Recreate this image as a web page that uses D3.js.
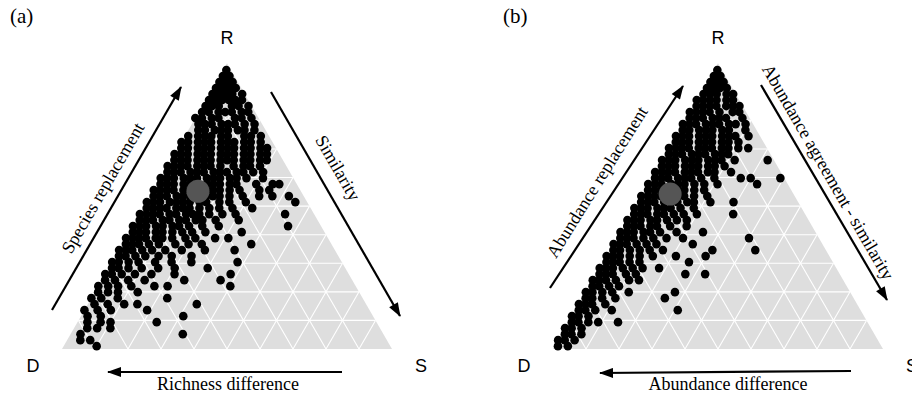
<!DOCTYPE html>
<html>
<head>
<meta charset="utf-8">
<script src="https://cdn.jsdelivr.net/npm/d3@7/dist/d3.min.js"></script>
<style>
  body { margin: 0; background: #fff; }
  svg { display: block; }
  .serif { font-family: "Liberation Serif", "Times New Roman", serif; }
  .sans { font-family: "Liberation Sans", Arial, sans-serif; }
</style>
</head>
<body>
<div id="chart"></div>
<script>
// ternary compositions: each level = [R (replacement), [S (similarity) values]], D = 1 - R - S
const levelsA = [
  [0.976, [0.01]],
  [0.955, [0.01, 0.03]],
  [0.934, [0.01, 0.03, 0.05]],
  [0.913, [0.01, 0.03, 0.05, 0.07]],
  [0.892, [0.01, 0.03, 0.05, 0.07, 0.10]],
  [0.871, [0.01, 0.03, 0.05, 0.07, 0.09, 0.11]],
  [0.850, [0.01, 0.03, 0.05, 0.09, 0.11, 0.14]],
  [0.829, [0.01, 0.03, 0.06, 0.08, 0.10, 0.13, 0.15]],
  [0.808, [0.00, 0.02, 0.05, 0.07, 0.12, 0.14, 0.17]],
  [0.787, [0.02, 0.04, 0.06, 0.09, 0.11, 0.13, 0.16, 0.19]],
  [0.766, [0.03, 0.05, 0.08, 0.10, 0.12, 0.15, 0.17, 0.20]],
  [0.745, [0.01, 0.04, 0.06, 0.08, 0.11, 0.13, 0.18, 0.20, 0.23]],
  [0.724, [0.00, 0.02, 0.05, 0.07, 0.09, 0.12, 0.14, 0.16, 0.19, 0.21, 0.24]],
  [0.703, [0.01, 0.03, 0.06, 0.08, 0.10, 0.13, 0.15, 0.17, 0.20, 0.22, 0.25, 0.27]],
  [0.682, [0.00, 0.02, 0.04, 0.07, 0.09, 0.11, 0.14, 0.16, 0.18, 0.21, 0.23, 0.26, 0.28]],
  [0.661, [0.01, 0.03, 0.05, 0.08, 0.10, 0.12, 0.15, 0.17, 0.19, 0.22, 0.24, 0.27, 0.29]],
  [0.640, [0.00, 0.02, 0.04, 0.06, 0.09, 0.11, 0.13, 0.16, 0.20, 0.23, 0.25, 0.28]],
  [0.619, [0.01, 0.03, 0.05, 0.08, 0.10, 0.12, 0.15, 0.17, 0.19, 0.22, 0.24, 0.27, 0.30]],
  [0.598, [0.00, 0.02, 0.04, 0.07, 0.09, 0.11, 0.14, 0.16, 0.18, 0.21, 0.23, 0.26, 0.31]],
  [0.577, [0.01, 0.03, 0.05, 0.08, 0.10, 0.12, 0.15, 0.17, 0.19, 0.22, 0.24, 0.30, 0.35, 0.37]],
  [0.556, [0.00, 0.02, 0.04, 0.06, 0.09, 0.11, 0.13, 0.16, 0.18, 0.20, 0.23, 0.26, 0.32, 0.35]],
  [0.535, [0.01, 0.03, 0.05, 0.08, 0.10, 0.12, 0.14, 0.17, 0.19, 0.21, 0.24, 0.28, 0.33, 0.37, 0.42]],
  [0.514, [0.00, 0.02, 0.04, 0.07, 0.09, 0.11, 0.13, 0.16, 0.18, 0.22, 0.25, 0.30, 0.45]],
  [0.493, [0.01, 0.03, 0.05, 0.07, 0.10, 0.12, 0.14, 0.17, 0.20, 0.23, 0.27, 0.33]],
  [0.472, [0.00, 0.02, 0.04, 0.06, 0.09, 0.11, 0.14, 0.16, 0.18, 0.21, 0.25, 0.29, 0.44]],
  [0.451, [0.01, 0.03, 0.05, 0.08, 0.10, 0.13, 0.15, 0.18, 0.20, 0.24, 0.31]],
  [0.430, [0.00, 0.02, 0.04, 0.07, 0.09, 0.12, 0.14, 0.17, 0.21, 0.26, 0.47]],
  [0.409, [0.01, 0.03, 0.05, 0.08, 0.10, 0.13, 0.16, 0.19, 0.23, 0.34]],
  [0.388, [0.00, 0.02, 0.04, 0.06, 0.09, 0.11, 0.14, 0.18, 0.21, 0.27, 0.31]],
  [0.367, [0.01, 0.03, 0.05, 0.08, 0.11, 0.16, 0.20, 0.24, 0.39]],
  [0.346, [0.00, 0.02, 0.04, 0.07, 0.10, 0.14, 0.19, 0.26, 0.35]],
  [0.325, [0.01, 0.03, 0.06, 0.09, 0.13, 0.17, 0.23]],
  [0.304, [0.00, 0.02, 0.05, 0.08, 0.13, 0.18, 0.24, 0.38]],
  [0.283, [0.01, 0.03, 0.06, 0.10, 0.15, 0.20, 0.30]],
  [0.262, [0.00, 0.02, 0.05, 0.09, 0.14, 0.21, 0.38]],
  [0.241, [0.01, 0.04, 0.08, 0.13, 0.25, 0.36]],
  [0.220, [0.00, 0.03, 0.06, 0.10, 0.17, 0.21, 0.40]],
  [0.199, [0.01, 0.04, 0.07, 0.13]],
  [0.178, [0.00, 0.03, 0.08, 0.23]],
  [0.157, [0.02, 0.06, 0.11, 0.15, 0.33]],
  [0.136, [0.00, 0.04, 0.08, 0.19]],
  [0.115, [0.02, 0.06, 0.31]],
  [0.094, [0.03, 0.07, 0.10, 0.24]],
  [0.073, [0.04, 0.07, 0.11]],
  [0.052, [0.03, 0.34]],
  [0.031, [0.04, 0.07]],
  [0.010, [0.10]]
];

const levelsB = [
  [0.976, [0.01]],
  [0.955, [0.01, 0.03]],
  [0.934, [0.01, 0.03, 0.05]],
  [0.913, [0.01, 0.03, 0.05, 0.07]],
  [0.892, [0.01, 0.03, 0.05, 0.08, 0.10]],
  [0.871, [0.00, 0.02, 0.04, 0.06, 0.09, 0.11]],
  [0.850, [0.01, 0.03, 0.05, 0.07, 0.10, 0.12, 0.14]],
  [0.829, [0.00, 0.02, 0.04, 0.06, 0.09, 0.13, 0.15]],
  [0.808, [0.01, 0.03, 0.05, 0.08, 0.10, 0.12, 0.17]],
  [0.787, [0.00, 0.02, 0.04, 0.07, 0.09, 0.11, 0.14, 0.16, 0.19]],
  [0.766, [0.01, 0.03, 0.06, 0.08, 0.10, 0.13, 0.15, 0.20]],
  [0.745, [0.00, 0.02, 0.04, 0.07, 0.09, 0.11, 0.14, 0.16, 0.18, 0.22]],
  [0.724, [0.01, 0.03, 0.05, 0.08, 0.10, 0.12, 0.15, 0.17, 0.20]],
  [0.703, [0.00, 0.02, 0.04, 0.06, 0.09, 0.11, 0.13, 0.16, 0.18, 0.21, 0.24]],
  [0.682, [0.01, 0.03, 0.05, 0.08, 0.10, 0.12, 0.15, 0.17, 0.19]],
  [0.661, [0.00, 0.02, 0.04, 0.07, 0.09, 0.11, 0.14, 0.16, 0.18, 0.22, 0.32]],
  [0.640, [0.01, 0.03, 0.05, 0.08, 0.10, 0.12, 0.15, 0.17, 0.20]],
  [0.619, [0.00, 0.02, 0.04, 0.06, 0.09, 0.11, 0.13, 0.16, 0.18, 0.23]],
  [0.598, [0.01, 0.03, 0.05, 0.08, 0.10, 0.12, 0.15, 0.19, 0.27, 0.30, 0.39]],
  [0.577, [0.00, 0.02, 0.04, 0.07, 0.09, 0.11, 0.14, 0.17, 0.21, 0.33]],
  [0.556, [0.01, 0.03, 0.05, 0.08, 0.10, 0.12, 0.15, 0.18]],
  [0.535, [0.00, 0.02, 0.04, 0.06, 0.09, 0.11, 0.13, 0.16, 0.20]],
  [0.514, [0.01, 0.03, 0.05, 0.08, 0.10, 0.12, 0.15, 0.17, 0.22, 0.29]],
  [0.493, [0.00, 0.02, 0.04, 0.07, 0.09, 0.11, 0.14, 0.18]],
  [0.472, [0.01, 0.03, 0.05, 0.08, 0.10, 0.13, 0.16, 0.20, 0.31]],
  [0.451, [0.00, 0.02, 0.04, 0.07, 0.09, 0.12, 0.15, 0.18]],
  [0.430, [0.01, 0.03, 0.05, 0.08, 0.10, 0.14, 0.19]],
  [0.409, [0.00, 0.02, 0.04, 0.07, 0.09, 0.12, 0.17, 0.25]],
  [0.388, [0.01, 0.03, 0.05, 0.08, 0.11, 0.15, 0.20, 0.40]],
  [0.367, [0.00, 0.02, 0.04, 0.07, 0.10, 0.13, 0.24]],
  [0.346, [0.01, 0.03, 0.06, 0.09, 0.12, 0.16, 0.31, 0.44]],
  [0.325, [0.00, 0.02, 0.04, 0.07, 0.10, 0.14, 0.21, 0.30]],
  [0.304, [0.01, 0.03, 0.05, 0.08, 0.11, 0.26]],
  [0.283, [0.00, 0.02, 0.04, 0.07, 0.10, 0.13, 0.18]],
  [0.262, [0.01, 0.03, 0.05, 0.09, 0.12, 0.27, 0.33]],
  [0.241, [0.00, 0.02, 0.04, 0.07, 0.11, 0.14]],
  [0.220, [0.01, 0.03, 0.06, 0.09]],
  [0.199, [0.00, 0.02, 0.05, 0.08, 0.13, 0.27]],
  [0.178, [0.01, 0.03, 0.06, 0.10, 0.25]],
  [0.157, [0.00, 0.02, 0.04, 0.08]],
  [0.136, [0.01, 0.03, 0.06, 0.11, 0.31]],
  [0.115, [0.00, 0.02, 0.05]],
  [0.094, [0.01, 0.03, 0.06, 0.09, 0.15]],
  [0.073, [0.00, 0.02, 0.05]],
  [0.052, [0.01, 0.03, 0.06]],
  [0.031, [0.00, 0.02, 0.05]],
  [0.010, [0.01, 0.04]]
];

// centroids [R, S]
const meanA = [0.552, 0.136];
const meanB = [0.542, 0.084];

const cornerLabels = ["R", "D", "S"];
const gridSteps = 10;

const W = 912, H = 401;
const svg = d3.select("#chart").append("svg")
  .attr("width", W)
  .attr("height", H);

const defs = svg.append("defs");
defs.append("marker")
  .attr("id", "arrow")
  .attr("viewBox", "0 0 14 10")
  .attr("refX", 13)
  .attr("refY", 5)
  .attr("markerUnits", "userSpaceOnUse")
  .attr("markerWidth", 15)
  .attr("markerHeight", 10)
  .attr("orient", "auto")
  .append("path")
  .attr("d", "M0,0 L14,5 L0,10 Z")
  .attr("fill", "#000");

function drawPanel(cfg) {
  const side = 330;
  const x = d3.scaleLinear().domain([0, 1]).range([cfg.left, cfg.left + side]);
  const y = d3.scaleLinear().domain([0, 1]).range([349, 349 - side * Math.sqrt(3) / 2]);
  const proj = (r, s) => [x(s + r / 2), y(r)];

  const g = svg.append("g");

  // background triangle
  g.append("path")
    .attr("d", d3.line()([proj(0, 0), proj(0, 1), proj(1, 0)]) + "Z")
    .attr("fill", "#dedede");

  // grid
  const ticks = d3.range(1, gridSteps).map(i => i / gridSteps);
  const segs = [];
  ticks.forEach(t => {
    segs.push([proj(t, 0), proj(t, 1 - t)]);      // constant R
    segs.push([proj(0, t), proj(1 - t, t)]);      // constant S
    segs.push([proj(1 - t, 0), proj(0, 1 - t)]);  // constant D
  });
  g.append("g").selectAll("line").data(segs).join("line")
    .attr("x1", d => d[0][0]).attr("y1", d => d[0][1])
    .attr("x2", d => d[1][0]).attr("y2", d => d[1][1])
    .attr("stroke", "#fff")
    .attr("stroke-width", 1.1);

  // points
  const pts = cfg.levels.flatMap(([r, ss]) => ss.map(s => ({ r: r, s: s })));
  g.append("g").selectAll("circle").data(pts).join("circle")
    .attr("cx", d => proj(d.r, d.s)[0])
    .attr("cy", d => proj(d.r, d.s)[1])
    .attr("r", 4.3)
    .attr("fill", "#000");

  // centroid
  g.append("circle")
    .attr("cx", proj(cfg.mean[0], cfg.mean[1])[0])
    .attr("cy", proj(cfg.mean[0], cfg.mean[1])[1])
    .attr("r", 11.5)
    .attr("fill", "#555");

  // corner labels
  const top = proj(1, 0);
  g.append("text").attr("class", "sans").attr("x", top[0]).attr("y", 44)
    .attr("text-anchor", "middle").attr("font-size", 18).text(cornerLabels[0]);
  g.append("text").attr("class", "sans").attr("x", cfg.left - 29).attr("y", 372)
    .attr("text-anchor", "middle").attr("font-size", 18).text(cornerLabels[1]);
  g.append("text").attr("class", "sans").attr("x", cfg.left + side + 29).attr("y", 372)
    .attr("text-anchor", "middle").attr("font-size", 18).text(cornerLabels[2]);

  // panel tag
  g.append("text").attr("class", "serif").attr("x", cfg.tagX).attr("y", 23)
    .attr("font-size", 21).text(cfg.tag);

  // arrows + titles
  cfg.arrows.forEach(a => {
    g.append("line")
      .attr("x1", a.from[0]).attr("y1", a.from[1])
      .attr("x2", a.to[0]).attr("y2", a.to[1])
      .attr("stroke", "#000")
      .attr("stroke-width", 2.2)
      .attr("marker-end", "url(#arrow)");
    g.append("text").attr("class", "serif")
      .attr("transform", `translate(${a.at[0]},${a.at[1]}) rotate(${a.rot})`)
      .attr("text-anchor", "middle")
      .attr("dominant-baseline", "central")
      .attr("font-size", 18)
      .text(a.label);
  });
}

drawPanel({
  left: 62, tag: "(a)", tagX: 10,
  levels: levelsA, mean: meanA,
  arrows: [
    { from: [52, 310], to: [181, 87], at: [103, 188], rot: -60, label: "Species replacement" },
    { from: [271, 92], to: [400, 316], at: [338, 168], rot: 60, label: "Similarity" },
    { from: [342, 372], to: [108, 372], at: [228, 384], rot: 0, label: "Richness difference" }
  ]
});

drawPanel({
  left: 553, tag: "(b)", tagX: 503,
  levels: levelsB, mean: meanB,
  arrows: [
    { from: [550, 288], to: [683, 86], at: [597, 182], rot: -58, label: "Abundance replacement" },
    { from: [761, 85], to: [887, 300], at: [828, 172], rot: 60, label: "Abundance agreement - similarity" },
    { from: [851, 371], to: [600, 373], at: [728, 384], rot: 0, label: "Abundance difference" }
  ]
});
</script>
</body>
</html>
